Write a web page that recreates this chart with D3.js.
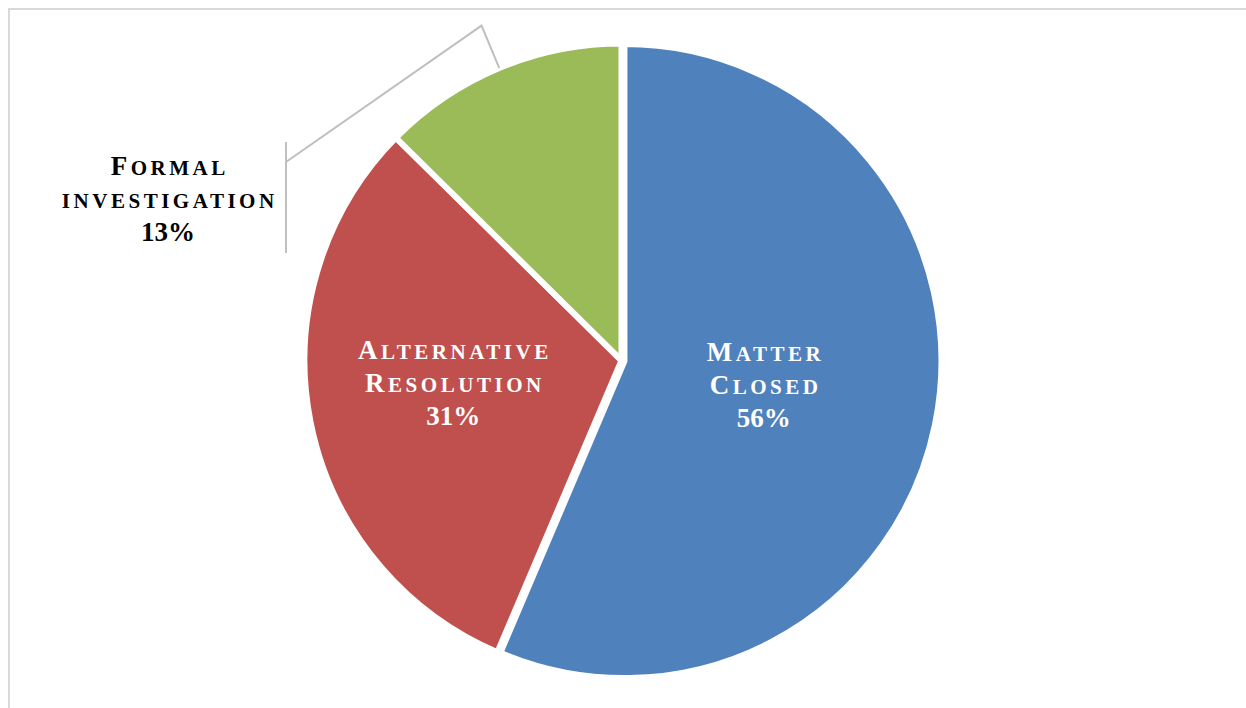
<!DOCTYPE html>
<html><head><meta charset="utf-8">
<script src="https://cdn.jsdelivr.net/npm/d3@7"></script>
<style>
html,body{margin:0;padding:0;background:#fff;}
svg{display:block;}
text{font-family:"Liberation Serif","DejaVu Serif",serif;font-weight:bold;}
</style></head>
<body>
<svg id="chart" width="1246" height="708"></svg>
<script>
// ---- data ----
const categories = ["Matter Closed", "Alternative Resolution", "Formal investigation"];
const values = [56.4, 31.0, 12.6];
const percentLabels = ["56%", "31%", "13%"];
const labelLines = [["Matter", "Closed"], ["Alternative", "Resolution"], ["Formal", "investigation"]];
const colors = ["#4F81BD", "#C0504D", "#9BBB59"];

// ---- layout ----
const W = 1246, H = 708;
const cx = 621.5, cy = 360.5, R = 317;
const explode = [3, 0, 0];
const insideLabelR = [0.44, 0.54];
const labelNudge = [[4, -3], [-2, -9]];
const fontSize = 27, scScale = 0.78, lineH = 33, ls = 3.5;

const svg = d3.select("#chart");

svg.append("rect")
  .attr("x", 9).attr("y", 9)
  .attr("width", W + 20).attr("height", H + 20)
  .attr("fill", "none").attr("stroke", "#d9d9d9").attr("stroke-width", 2);

const pie = d3.pie().sort(null).value(d => d)(values);
const arc = d3.arc().innerRadius(0).outerRadius(R);

const g = svg.append("g").attr("transform", `translate(${cx},${cy})`);

function offset(d, i) {
  const a = (d.startAngle + d.endAngle) / 2;
  return [Math.sin(a) * explode[i], -Math.cos(a) * explode[i]];
}

g.selectAll("path.slice").data(pie).join("path")
  .attr("class", "slice")
  .attr("d", arc)
  .attr("transform", (d, i) => { const o = offset(d, i); return `translate(${o[0]},${o[1]})`; })
  .attr("fill", (d, i) => colors[i])
  .attr("stroke", "#fff").attr("stroke-width", 6).attr("stroke-linejoin", "miter");

// manual small caps: uppercase letters full size, lowercase as smaller capitals
function smallCapsLine(x, y, word, fill) {
  const t = g.append("text").attr("text-anchor", "middle").attr("fill", fill)
    .attr("font-size", fontSize).attr("x", x + ls / 2).attr("y", y)
    .style("letter-spacing", ls + "px");
  const runs = [];
  for (const ch of word) {
    const big = ch === ch.toUpperCase();
    if (runs.length && runs[runs.length - 1].big === big) runs[runs.length - 1].s += ch;
    else runs.push({ big, s: ch });
  }
  runs.forEach(r => {
    t.append("tspan").attr("font-size", r.big ? fontSize : fontSize * scScale)
      .text(r.s.toUpperCase());
  });
}

function writeLabel(x, y, i, fill) {
  const lines = labelLines[i];
  const midBase = y + 8;
  lines.forEach((ln, k) => smallCapsLine(x, midBase + (k - 1) * lineH, ln, fill));
  g.append("text").attr("text-anchor", "middle").attr("fill", fill)
    .attr("font-size", fontSize).attr("x", x)
    .attr("y", midBase + (lines.length - 1) * lineH)
    .text(percentLabels[i]);
}

// inside labels
[0, 1].forEach(i => {
  const d = pie[i];
  const a = (d.startAngle + d.endAngle) / 2;
  const o = offset(d, i);
  const r = (R - 3) * insideLabelR[i];
  writeLabel(o[0] + Math.sin(a) * r + labelNudge[i][0], o[1] - Math.cos(a) * r + labelNudge[i][1], i, "#fff");
});

// outside label with leader line
{
  const i = 2, d = pie[i];
  const a = (d.startAngle + d.endAngle) / 2;
  const p0 = [Math.sin(a) * R, -Math.cos(a) * R];
  const p1 = [Math.sin(a) * (R + 46), -Math.cos(a) * (R + 46)];
  const lx = -453.5, ly = -160.5;
  const barX = -335.5;
  const p2 = [barX, ly - 38];
  g.append("path")
    .attr("d", d3.line()([p0, p1, p2]))
    .attr("fill", "none").attr("stroke", "#bfbfbf").attr("stroke-width", 2);
  g.append("line")
    .attr("x1", barX).attr("x2", barX).attr("y1", ly - 58).attr("y2", ly + 53)
    .attr("stroke", "#bfbfbf").attr("stroke-width", 2);
  writeLabel(lx, ly, i, "#000");
}
</script>
</body></html>
